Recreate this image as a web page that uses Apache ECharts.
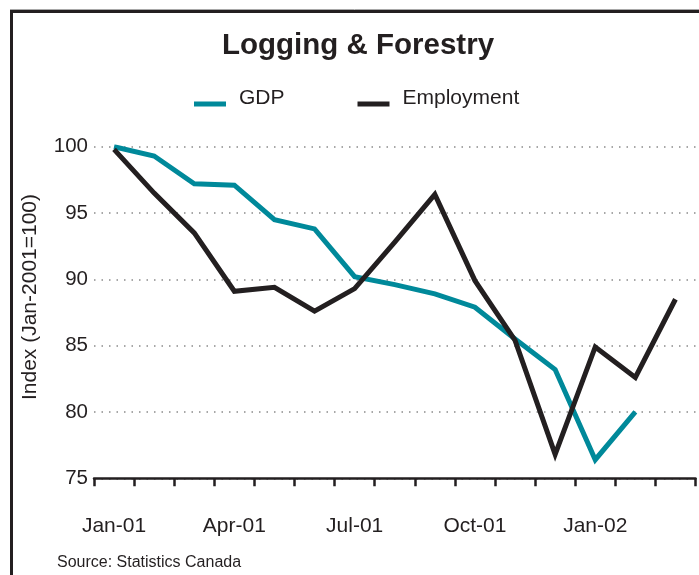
<!DOCTYPE html>
<html>
<head>
<meta charset="utf-8">
<script src="https://cdn.jsdelivr.net/npm/echarts@6/dist/echarts.min.js"></script>
<style>
  html, body { margin: 0; padding: 0; background: #ffffff; }
  #chart { width: 699px; height: 575px; }
</style>
</head>
<body>
<div id="chart"></div>
<script>
// Monthly categories, Jan 2001 to Mar 2002
const months = ['Jan-01', 'Feb-01', 'Mar-01', 'Apr-01', 'May-01', 'Jun-01', 'Jul-01',
  'Aug-01', 'Sep-01', 'Oct-01', 'Nov-01', 'Dec-01', 'Jan-02', 'Feb-02', 'Mar-02'];

// Index values (Jan-2001 = 100)
const gdp = [100, 99.3, 97.2, 97.1, 94.5, 93.8, 90.2, 89.6, 88.9, 87.9, 85.5, 83.2, 76.4, 80.0];
const employment = [99.8, 96.5, 93.5, 89.1, 89.4, 87.6, 89.3, 92.8, 96.4, 89.9, 85.4, 76.8, 84.9, 82.6, 88.5];

const yTicks = { min: 75, max: 100, step: 5 };

const FONT = "'Liberation Sans', Arial, Helvetica, sans-serif";
const INK = '#231f20';
const TEAL = '#00899a';

// legend swatch: a short bar sitting a little below the text middle
const SWATCH = 'path://M0,0L0.01,0M0,11H32V16H0Z';

const chart = echarts.init(document.getElementById('chart'));

chart.setOption({
  backgroundColor: '#ffffff',
  animation: false,
  title: {
    text: 'Logging & Forestry',
    left: 222,
    top: 31,
    padding: 0,
    textStyle: { fontFamily: FONT, fontSize: 29.5, fontWeight: 'bold', color: INK }
  },
  legend: {
    left: 194,
    top: 88,
    padding: 0,
    icon: SWATCH,
    itemWidth: 32,
    itemHeight: 16,
    itemGap: 73,
    textStyle: { fontFamily: FONT, fontSize: 21, color: INK, padding: [0, 0, 0, 8] },
    data: ['GDP', 'Employment']
  },
  grid: { left: 94, right: 3.5, top: 146.7, bottom: 96.7, containLabel: false },
  xAxis: {
    type: 'category',
    data: months,
    boundaryGap: true,
    axisLine: { lineStyle: { color: INK, width: 2.5 } },
    axisTick: { show: true, interval: 0, length: 8, lineStyle: { color: INK, width: 2.5 } },
    axisLabel: { interval: 2, margin: 37, fontFamily: FONT, fontSize: 21, color: INK },
    splitLine: { show: false }
  },
  yAxis: {
    type: 'value',
    min: yTicks.min,
    max: yTicks.max,
    interval: yTicks.step,
    axisLine: { show: false },
    axisTick: { show: false },
    axisLabel: { margin: 6, fontFamily: FONT, fontSize: 20.5, color: INK },
    splitLine: { lineStyle: { color: '#8a8a8a', type: [1.5, 6], width: 1.5 } }
  },
  series: [
    {
      name: 'GDP',
      type: 'line',
      data: gdp,
      symbol: 'none',
      color: TEAL,
      lineStyle: { color: TEAL, width: 5, join: 'miter' },
      z: 2
    },
    {
      name: 'Employment',
      type: 'line',
      data: employment,
      symbol: 'none',
      color: INK,
      lineStyle: { color: INK, width: 5, join: 'miter' },
      z: 3
    }
  ],
  graphic: [
    {
      type: 'line',
      shape: { x1: 10, y1: 9.5, x2: 699, y2: 9.5 },
      style: { stroke: '#a8a8a8', lineWidth: 1 },
      silent: true
    },
    {
      type: 'rect',
      shape: { x: 11.5, y: 11.5, width: 720, height: 600 },
      style: { fill: 'none', stroke: INK, lineWidth: 3 },
      silent: true
    },
    {
      // vertical axis title
      type: 'text',
      x: 30,
      y: 297,
      rotation: Math.PI / 2,
      style: {
        text: 'Index (Jan-2001=100)',
        fontFamily: FONT,
        fontSize: 21,
        fill: INK,
        align: 'center',
        verticalAlign: 'middle'
      }
    },
    {
      type: 'text',
      left: 57,
      top: 555,
      style: { text: 'Source: Statistics Canada', fontFamily: FONT, fontSize: 16, fill: INK }
    }
  ]
});
</script>
</body>
</html>
